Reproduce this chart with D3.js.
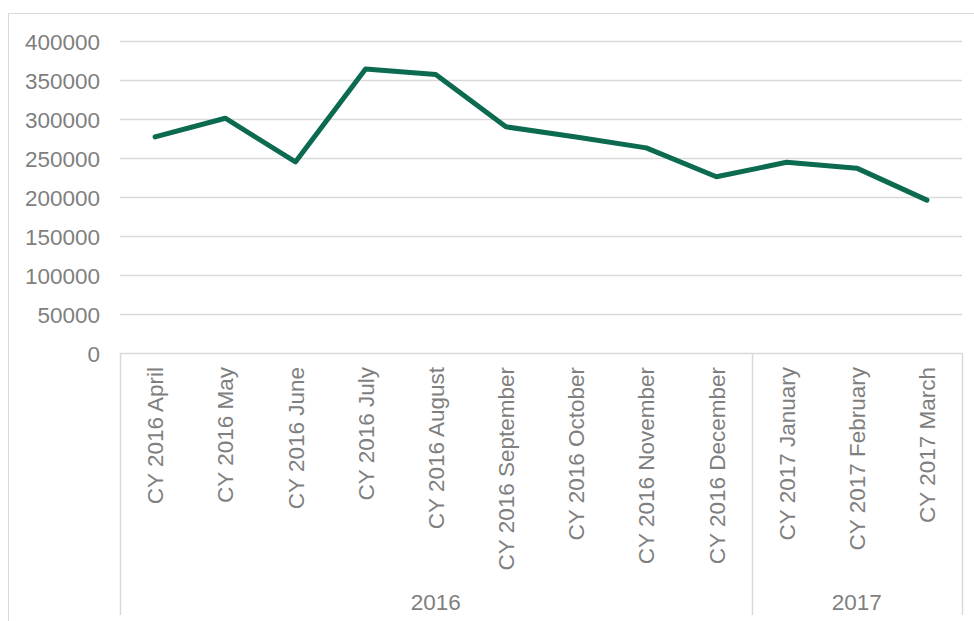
<!DOCTYPE html>
<html>
<head>
<meta charset="utf-8">
<script src="https://cdn.jsdelivr.net/npm/d3@7/dist/d3.min.js"></script>
<style>
  html, body { margin: 0; padding: 0; background: #fff; }
  svg { display: block; font-family: "Liberation Sans", Arial, sans-serif; }
</style>
</head>
<body>
<svg id="chart" width="974" height="621"></svg>
<script>
// Monthly totals, April 2016 – March 2017
const categories = [
  "CY 2016 April", "CY 2016 May", "CY 2016 June", "CY 2016 July",
  "CY 2016 August", "CY 2016 September", "CY 2016 October", "CY 2016 November",
  "CY 2016 December", "CY 2017 January", "CY 2017 February", "CY 2017 March"
];
const values = [277000, 301000, 245000, 364000, 357000, 290000, 277000, 263000, 226000, 244500, 237000, 196000];
const yTicks = [0, 50000, 100000, 150000, 200000, 250000, 300000, 350000, 400000];
const groups = ["2016", "2017"];
const groupSizes = [9, 3];

const svg = d3.select("#chart");
const plotLeft = 120, plotRight = 962, plotTop = 41, plotBottom = 353, axisBottom = 615;
const textColor = "#7f7f7f", gridColor = "#d9d9d9";
const fontSize = "22.5px";

// chart frame
svg.append("rect")
  .attr("x", 8.5).attr("y", 13.5)
  .attr("width", 980).attr("height", 640)
  .attr("fill", "none").attr("stroke", gridColor).attr("stroke-width", 1);

const x = d3.scaleBand().domain(categories).range([plotLeft, plotRight]).padding(0);
const y = d3.scaleLinear().domain([0, 400000]).range([plotBottom, plotTop]);

// horizontal gridlines
svg.append("g").selectAll("line").data(yTicks.filter(d => d > 0)).join("line")
  .attr("x1", plotLeft).attr("x2", plotRight)
  .attr("y1", d => Math.round(y(d)) + 0.5).attr("y2", d => Math.round(y(d)) + 0.5)
  .attr("stroke", gridColor).attr("stroke-width", 1.5);

// value axis labels
const yAxis = d3.axisLeft(y).tickValues(yTicks).tickSize(0).tickPadding(0).tickFormat(d3.format("d"));
const yg = svg.append("g").attr("transform", `translate(100,0)`).call(yAxis);
yg.select(".domain").remove();
yg.selectAll("text").attr("fill", textColor).style("font-size", fontSize).attr("dy", "0.36em");

// category axis: baseline plus group separators
svg.append("line").attr("x1", plotLeft).attr("x2", plotRight)
  .attr("y1", plotBottom + 0.5).attr("y2", plotBottom + 0.5)
  .attr("stroke", gridColor).attr("stroke-width", 1.5);

let start = 0;
groupSizes.forEach((n, i) => {
  const x0 = x(categories[start]);
  const x1 = x(categories[start + n - 1]) + x.bandwidth();
  svg.append("text")
    .attr("x", (x0 + x1) / 2).attr("y", 602)
    .attr("text-anchor", "middle").attr("dy", "0.35em")
    .attr("fill", textColor).style("font-size", fontSize)
    .text(groups[i]);
  start += n;
});
const sepX = [plotLeft, x(categories[groupSizes[0]]), plotRight];
svg.append("g").selectAll("line").data(sepX).join("line")
  .attr("x1", d => Math.round(d) + 0.5).attr("x2", d => Math.round(d) + 0.5)
  .attr("y1", plotBottom).attr("y2", axisBottom)
  .attr("stroke", gridColor).attr("stroke-width", 1.5);

// rotated month labels
const xAxis = d3.axisBottom(x).tickSize(0).tickPadding(0);
const xg = svg.append("g").attr("transform", `translate(0,${plotBottom})`).call(xAxis);
xg.select(".domain").remove();
xg.selectAll("text")
  .attr("fill", textColor).style("font-size", fontSize)
  .attr("transform", "rotate(-90)")
  .attr("x", -14).attr("y", 0).attr("dy", "0.36em")
  .attr("text-anchor", "end");

// series line
const line = d3.line()
  .x((d, i) => x(categories[i]) + x.bandwidth() / 2)
  .y(d => y(d));
svg.append("path").datum(values)
  .attr("d", line)
  .attr("fill", "none")
  .attr("stroke", "#0c6a50")
  .attr("stroke-width", 5)
  .attr("stroke-linejoin", "round")
  .attr("stroke-linecap", "round");
</script>
</body>
</html>
